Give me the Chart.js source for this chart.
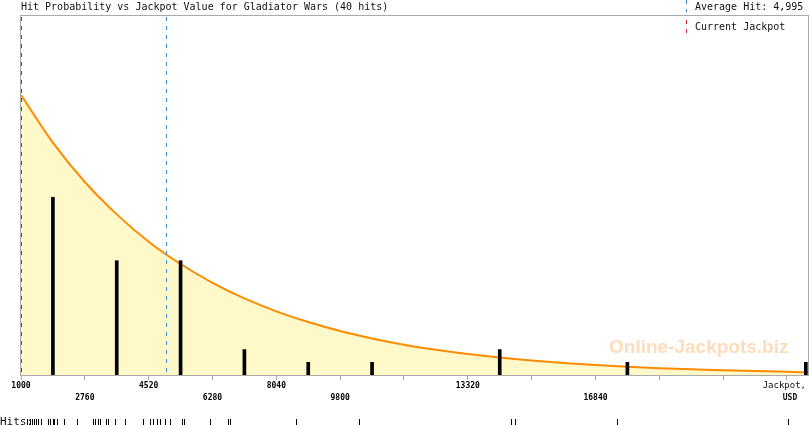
<!DOCTYPE html>
<html>
<head>
<meta charset="utf-8">
<script src="https://cdn.jsdelivr.net/npm/chart.js@4.4.1/dist/chart.umd.min.js"></script>
<style>
  html, body { margin: 0; padding: 0; background: #fff; }
  #wrap { width: 810px; height: 425px; }
</style>
</head>
<body>
<div id="wrap"><canvas id="hitChart" width="810" height="425"></canvas></div>
<script>
// Probability curve (in "hits per bin" units)
const curveJackpot = [1000, 1880, 2760, 3640, 4520, 5400, 6280, 7160, 8040, 8920, 9800, 10680, 11560,
    12440, 13320, 14200, 15080, 15960, 16840, 17720, 18600, 19480, 20360, 21240, 22120, 22700];
const curveHits = [22.05, 18.3, 15.2, 12.65, 10.5, 8.74, 7.26, 6.03, 5.01, 4.17, 3.46, 2.88, 2.39,
    1.99, 1.65, 1.37, 1.14, 0.95, 0.79, 0.65, 0.54, 0.45, 0.38, 0.31, 0.26, 0.2];

// Hit counts per jackpot bin
const binCenters = [1880, 3640, 5400, 7160, 8920, 10680, 14200, 17720, 22640];
const binHits = [14, 9, 9, 2, 1, 1, 2, 1, 1];

// Individual hits (USD) for the rug row at the bottom
const hitValues = [1165, 1248, 1303, 1358, 1427, 1482, 1551, 1758, 1813, 1882, 1909, 2006, 2185, 2544,
    2984, 3053, 3122, 3177, 3343, 3411, 3591, 3866, 4376,
    4555, 4652, 4748, 4845, 4969, 5120, 5451, 5506, 6209,
    6719, 6774, 8571, 10324, 14504, 14614, 17445, 22140];

// Axis ticks and labels (two alternating rows)
const xTicks = [1000, 2760, 4520, 6280, 8040, 9800, 11560, 13320, 15080, 16840, 18600, 20360, 22120];
const tickTop = ['1000', '4520', '8040', '13320'];
const tickBottom = ['2760', '6280', '9800', '16840'];

const averageHit = 4995;
const currentJackpot = 1000;

const mono = '"DejaVu Sans Mono", monospace';

// Extra drawing: frame, marker lines, legend, watermark, hits row
const overlayPlugin = {
    id: 'overlay',
    beforeDatasetsDraw(chart) {
        const { ctx, chartArea: a } = chart;
        ctx.save();
        ctx.font = 'bold 19px "Liberation Sans", Arial, sans-serif';
        ctx.fillStyle = '#fddcbb';
        ctx.textAlign = 'left';
        ctx.textBaseline = 'middle';
        ctx.fillText('Online-Jackpots.biz', a.right - 199, 348);
        ctx.restore();
    },
    afterDatasetsDraw(chart) {
        const { ctx, chartArea: a, scales: { x } } = chart;
        ctx.save();

        // frame
        ctx.strokeStyle = '#aaa';
        ctx.lineWidth = 1;
        ctx.strokeRect(a.left - 0.5, a.top + 0.5, a.right - a.left + 1, a.bottom - a.top);

        // marker lines
        const dash = (px, color, y0, y1) => {
            ctx.strokeStyle = color;
            ctx.setLineDash([4, 5]);
            ctx.beginPath();
            ctx.moveTo(px, y0);
            ctx.lineTo(px, y1);
            ctx.stroke();
        };
        dash(Math.round(x.getPixelForValue(averageHit)) + 0.5, '#3d8fcc', a.top + 2, a.bottom);
        dash(Math.round(x.getPixelForValue(currentJackpot)) + 0.5, '#c8202a', a.top + 2, a.bottom);

        // legend
        dash(686.5, '#3d8fcc', 0, 12);
        dash(686.5, '#c8202a', 20, 34);
        ctx.setLineDash([]);
        ctx.fillStyle = '#111';
        ctx.font = '10px ' + mono;
        ctx.textAlign = 'left';
        ctx.textBaseline = 'middle';
        ctx.fillText('Average Hit: 4,995', 695, 7);
        ctx.fillText('Current Jackpot', 695, 27);

        // axis name
        ctx.font = '9px ' + mono;
        ctx.textAlign = 'right';
        ctx.fillText('Jackpot,', a.right - 2, 386);
        ctx.font = 'bold 8px ' + mono;
        ctx.textAlign = 'center';
        ctx.fillText('USD', a.right - 18, 398);

        // hits row
        ctx.font = '11px ' + mono;
        ctx.textAlign = 'left';
        ctx.textBaseline = 'alphabetic';
        ctx.fillText('Hits:', 0, 425);
        ctx.strokeStyle = '#000';
        ctx.beginPath();
        for (const v of hitValues) {
            const px = Math.round(x.getPixelForValue(v)) + 0.5;
            ctx.moveTo(px, 419);
            ctx.lineTo(px, 425);
        }
        ctx.stroke();
        ctx.restore();
    }
};

const ctx = document.getElementById('hitChart').getContext('2d');

new Chart(ctx, {
    type: 'bar',
    data: {
        datasets: [
            {
                type: 'bar',
                data: binCenters.map((c, i) => ({ x: c, y: binHits[i] })),
                backgroundColor: '#000',
                barThickness: 3,
                order: 0,
            },
            {
                type: 'line',
                data: curveJackpot.map((c, i) => ({ x: c, y: curveHits[i] })),
                borderColor: '#ff8c00',
                borderWidth: 2,
                backgroundColor: '#fff8c8',
                fill: 'origin',
                pointRadius: 0,
                cubicInterpolationMode: 'monotone',
                order: 1,
            },
        ],
    },
    options: {
        responsive: false,
        animation: false,
        devicePixelRatio: 1,
        layout: { padding: { left: 21, right: 2, top: 0, bottom: 0 } },
        plugins: {
            legend: { display: false },
            tooltip: { enabled: false },
            title: {
                display: true,
                text: 'Hit Probability vs Jackpot Value for Gladiator Wars (40 hits)',
                align: 'start',
                color: '#111',
                font: { family: mono, size: 10, weight: 'normal', lineHeight: 1.2 },
                padding: { top: 1, bottom: 2 },
            },
        },
        scales: {
            x: {
                type: 'linear',
                min: 1000,
                max: 22700,
                offset: false,
                grid: { drawOnChartArea: false, drawTicks: true, tickLength: 5, color: '#aaa', offset: false },
                border: { display: false },
                afterBuildTicks(scale) {
                    scale.ticks = xTicks.map(v => ({ value: v }));
                },
                ticks: {
                    autoSkip: false,
                    maxRotation: 0,
                    padding: 0,
                    color: '#000',
                    font: { family: mono, size: 8, weight: 'bold', lineHeight: 1.5 },
                    callback: (value) => {
                        const s = String(value);
                        if (tickTop.includes(s)) return s;
                        if (tickBottom.includes(s)) return ['', s];
                        return '';
                    },
                },
                afterFit(scale) { scale.height = 50; },
            },
            y: { display: false, min: 0, max: 28.35 },
        },
    },
    plugins: [overlayPlugin],
});
</script>
</body>
</html>
